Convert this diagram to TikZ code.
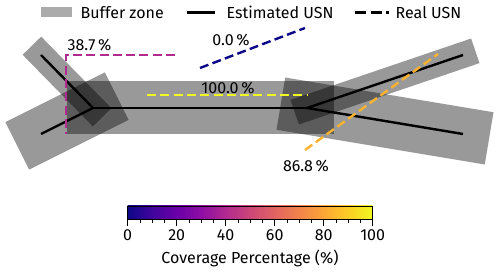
\documentclass[tikz,border=0pt]{standalone}
\usepackage{fontspec}
\setmainfont{Fira Sans}
\usepackage{tikz}
\usetikzlibrary{positioning}
\usepackage{xcolor}

\definecolor{covzero}{HTML}{0D0887}
\definecolor{covlow}{HTML}{B02A90}
\definecolor{covhigh}{HTML}{FBB32F}
\definecolor{covfull}{HTML}{F0F921}

% plasma colour map, path mapped onto 25bp--75bp
\pgfdeclarehorizontalshading{plasma}{100bp}{%
  rgb(0bp)=(0.051,0.031,0.529); rgb(25bp)=(0.051,0.031,0.529);
  rgb(30bp)=(0.255,0.016,0.616); rgb(35bp)=(0.416,0,0.659);
  rgb(40bp)=(0.561,0.051,0.643); rgb(45bp)=(0.694,0.165,0.565);
  rgb(50bp)=(0.800,0.278,0.471); rgb(55bp)=(0.882,0.392,0.384);
  rgb(60bp)=(0.949,0.518,0.294); rgb(65bp)=(0.988,0.651,0.212);
  rgb(70bp)=(0.988,0.808,0.145); rgb(75bp)=(0.941,0.976,0.129);
  rgb(100bp)=(0.941,0.976,0.129)}

\begin{document}
\begin{tikzpicture}[x=1pt, y=-1pt, font=\fontsize{16}{18}\selectfont,
  buffer/.style={line width=#1, line cap=rect, black, opacity=0.4},
  estline/.style={line width=2.4pt, black},
  realline/.style={line width=2.4pt, dash pattern=on 9pt off 4.3pt},
  pct/.style={inner sep=0pt}]
\useasboundingbox (0,0) rectangle (500,272);

% estimated network
\coordinate (UL) at (41,55);
\coordinate (LL) at (41,134);
\coordinate (J1) at (93,108);
\coordinate (J2) at (307,108);
\coordinate (UR) at (463,55);
\coordinate (LR) at (463,134);

\draw[buffer=26pt] (UL) -- (J1);
\draw[buffer=53pt] (LL) -- (J1);
\draw[buffer=53pt] (J1) -- (J2);
\draw[buffer=26pt] (J2) -- (UR);
\draw[buffer=53pt] (J2) -- (LR);

\draw[estline] (UL) -- (J1) -- (LL);
\draw[estline] (J1) -- (J2);
\draw[estline] (UR) -- (J2) -- (LR);

% real network segments
\coordinate (M1) at (175,55);
\coordinate (M2) at (66,55);
\coordinate (M3) at (66,134);
\coordinate (B1) at (200,68);
\coordinate (B2) at (305,28);
\coordinate (Y1) at (147,95);
\coordinate (Y2) at (307,95);
\coordinate (O1) at (305,150);
\coordinate (O2) at (438,54);

\draw[realline, covlow] (M1) -- (M2) -- (M3);
\draw[realline, covzero] (B1) -- (B2);
\draw[realline, covfull] (Y1) -- (Y2);
\draw[realline, covhigh] (O1) -- (O2);

\node[pct] (lowlab) at (89.5,45) {38.7\,\%};
\node[pct] (zerolab) at (231,40) {0.0\,\%};
\node[pct] (fulllab) at (228,88) {100.0\,\%};
\node[pct] (highlab) at (306,166) {86.8\,\%};

% legend
\fill[black, opacity=0.33] (40.7,7) rectangle (71.7,17.5);
\node[pct, anchor=west] (bufleg) at (80.5,12.5) {Buffer zone};
\coordinate (E1) at (186.7,12.5);
\coordinate (E2) at (215,12.5);
\draw[estline] (E1) -- (E2);
\node[pct, anchor=west] (estleg) at (226.5,12.5) {Estimated USN};
\coordinate (R1) at (355,12.5);
\coordinate (R2) at (389,12.5);
\draw[realline, black, dash pattern=on 11pt off 4.5pt] (R1) -- (R2);
\node[pct, anchor=west] (realleg) at (395.5,12.5) {Real USN};

% colour bar
\shade[shading=plasma] (127.7,206) rectangle (372.7,219.3);
\draw[line width=0.8pt] (127.7,206) rectangle (372.7,219.3);
\foreach \v in {0,5,...,100}{
  \draw[line width=0.8pt] (127.7+2.45*\v,219.3) -- ++(0,3.5);
}
\foreach \v in {0,20,...,100}{
  \draw[line width=0.8pt] (127.7+2.45*\v,219.3) -- ++(0,6.5);
  \node[pct] at (127.7+2.45*\v,235) {\v};
}
\node[pct] (cbtitle) at (250,258) {Coverage Percentage (\%)};
\end{tikzpicture}
\end{document}
